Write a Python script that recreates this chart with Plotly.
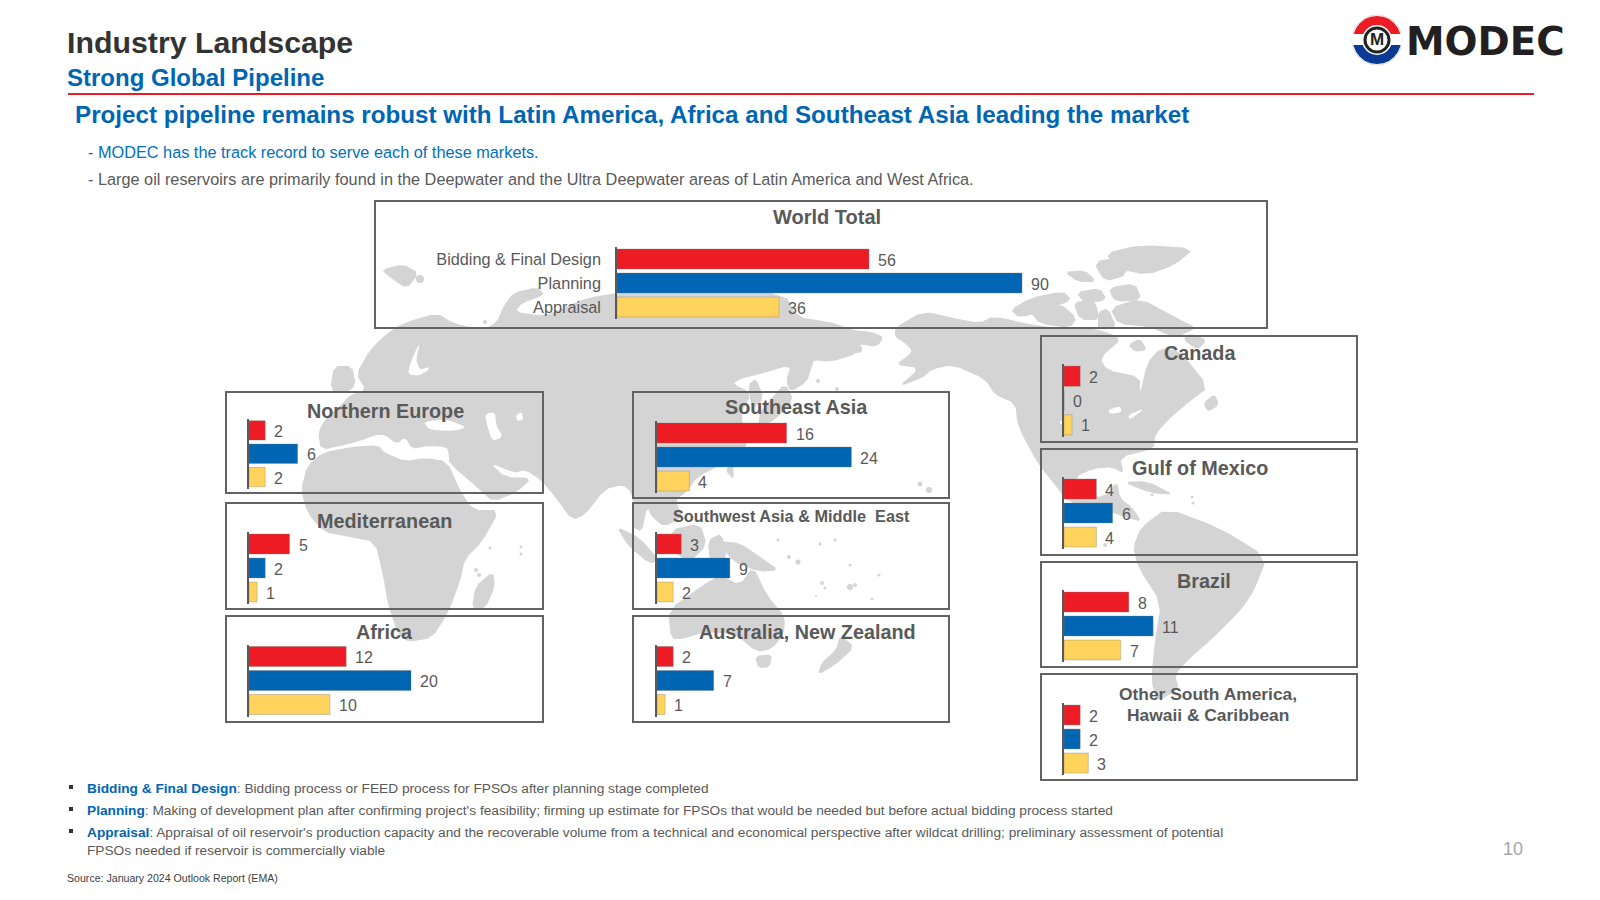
import plotly.graph_objects as go

# ---------- data ----------
CATEGORIES = ["Bidding & Final Design", "Planning", "Appraisal"]
BAR_COLORS = ["#ED1C24", "#0066B3", "#FFD35C"]

WORLD_TOTAL = [56, 90, 36]
NORTHERN_EUROPE = [2, 6, 2]
MEDITERRANEAN = [5, 2, 1]
AFRICA = [12, 20, 10]
SOUTHEAST_ASIA = [16, 24, 4]
SOUTHWEST_ASIA = [3, 9, 2]
AUSTRALIA_NZ = [2, 7, 1]
CANADA = [2, 0, 1]
GULF_OF_MEXICO = [4, 6, 4]
BRAZIL = [8, 11, 7]
OTHER_SOUTH_AMERICA = [2, 2, 3]

GREY = "#595959"
BLUE = "#0066B3"
FONT = "Liberation Sans"
W, H = 1600, 900

# panel: title lines, values, box(x0,y0,x1,y1), plot(x0,y0,y1), px/unit, title(x,y,size)
PANELS = [
    (["World Total"], WORLD_TOTAL, (375, 201, 1267, 328), (617, 247, 319), 4.50, (827, 217, 20)),
    (["Northern Europe"], NORTHERN_EUROPE, (226, 392, 543, 493), (249, 418.7, 488.7), 8.1, (385, 411, 19.8)),
    (["Mediterranean"], MEDITERRANEAN, (226, 503, 543, 609), (249, 532, 604), 8.1, (384, 521, 19.8)),
    (["Africa"], AFRICA, (226, 616, 543, 722), (249, 644.5, 716.5), 8.1, (384.5, 632, 19.8)),
    (["Southeast Asia"], SOUTHEAST_ASIA, (633, 392, 949, 498), (657, 421, 493), 8.1, (796, 407, 19.8)),
    (["Southwest Asia &amp; Middle  East"], SOUTHWEST_ASIA, (633, 503, 949, 609), (657, 532, 604), 8.1, (791, 516, 16.3)),
    (["Australia, New Zealand"], AUSTRALIA_NZ, (633, 616, 949, 722), (657, 644.5, 716.5), 8.1, (807, 632, 19.8)),
    (["Canada"], CANADA, (1041, 336, 1357, 442), (1064, 364, 437), 8.1, (1200, 353, 19.8)),
    (["Gulf of Mexico"], GULF_OF_MEXICO, (1041, 449, 1357, 555), (1064, 477, 549), 8.1, (1200, 468, 19.8)),
    (["Brazil"], BRAZIL, (1041, 562, 1357, 667), (1064, 590, 662), 8.1, (1204, 581, 19.8)),
    (["Other South America,", "Hawaii &amp; Caribbean"], OTHER_SOUTH_AMERICA, (1041, 674, 1357, 780), (1064, 703, 775), 8.1, (1208, 704.5, 17.4)),
]

# decorative background world map outline (page pixels)
MAP_LAND = [
    [(318, 432), (326, 418), (342, 404), (350, 395), (366, 390), (356, 374), (370, 350), (385, 335), (403, 323),
     (437, 313), (453, 323), (483, 330), (497, 322), (503, 307), (513, 293), (537, 287), (545, 295), (522, 303),
     (515, 312), (545, 316), (570, 305), (587, 298), (616, 293), (660, 290), (720, 290), (785, 294), (797, 317),
     (830, 322), (853, 330), (872, 332), (884, 337), (877, 347), (858, 344), (857, 354), (830, 362), (814, 360),
     (812, 366), (807, 382), (790, 392), (786, 380), (791, 365), (760, 374), (740, 379), (733, 384), (752, 393),
     (740, 415), (750, 443), (727, 462), (697, 477), (687, 492), (675, 500), (683, 517), (664, 527), (652, 517),
     (647, 507), (642, 532), (632, 527), (634, 507), (631, 492), (623, 485), (605, 489), (585, 515), (572, 520),
     (555, 497), (541, 480), (525, 470), (515, 473), (490, 463), (505, 477), (532, 478), (517, 492), (493, 502),
     (480, 490), (449, 463), (449, 456), (447, 447), (428, 446), (412, 449), (405, 437), (397, 444), (385, 435),
     (375, 435), (360, 441), (345, 445), (321, 450)],
    [(322, 453), (350, 447), (378, 445), (385, 453), (405, 461), (425, 458), (447, 461), (460, 490), (473, 510),
     (500, 510), (482, 542), (465, 559), (460, 582), (447, 615), (432, 638), (408, 642), (398, 634), (388, 605),
     (383, 575), (375, 542), (350, 537), (323, 532), (307, 512), (301, 490), (307, 466)],
    [(472, 609), (475, 587), (493, 571), (495, 587), (485, 609)],
    [(330, 390), (334, 366), (352, 366), (356, 385), (345, 394)],
    [(616, 526), (640, 538), (659, 560), (650, 564), (628, 546)],
    [(658, 565), (690, 568), (702, 575), (680, 577)],
    [(670, 530), (700, 523), (707, 545), (690, 562), (673, 552)],
    [(708, 540), (722, 533), (727, 560), (710, 564)],
    [(718, 541), (740, 543), (762, 558), (779, 570), (760, 572), (733, 562)],
    [(668, 610), (703, 585), (720, 575), (740, 585), (753, 566), (767, 595), (785, 617), (784, 634), (772, 649),
     (757, 652), (735, 634), (705, 632), (683, 639), (671, 639)],
    [(755, 656), (772, 654), (770, 667), (758, 668)],
    [(840, 635), (855, 647), (835, 665), (818, 675), (821, 663), (836, 650)],
    [(895, 328), (923, 311), (953, 318), (980, 323), (993, 316), (1033, 325), (1060, 328), (1093, 328), (1123, 338),
     (1100, 358), (1107, 370), (1140, 377), (1140, 395), (1147, 363), (1160, 348), (1180, 351), (1209, 387),
     (1189, 402), (1169, 419), (1155, 435), (1154, 449), (1120, 457), (1124, 474), (1112, 467), (1093, 469),
     (1075, 477), (1080, 495), (1105, 497), (1117, 481), (1120, 498), (1132, 507), (1142, 522), (1125, 517),
     (1095, 507), (1068, 502), (1055, 485), (1038, 464), (1018, 427), (1015, 403), (995, 395), (985, 379), (953, 365),
     (933, 369), (922, 378), (898, 387), (920, 368), (895, 365), (913, 352), (905, 343), (895, 337)],
    [(1141, 527), (1167, 508), (1220, 528), (1267, 557), (1255, 589), (1242, 609), (1212, 639), (1189, 659),
     (1175, 675), (1179, 689), (1157, 702), (1151, 680), (1155, 640), (1161, 603), (1138, 567), (1133, 547)],
    [(1123, 482), (1147, 481), (1175, 495), (1150, 493)],
    [(1105, 253), (1140, 245), (1195, 248), (1175, 265), (1147, 275), (1118, 269)],
    [(1064, 272), (1085, 270), (1097, 282), (1078, 282)],
    [(1093, 262), (1125, 256), (1127, 275), (1105, 282)],
    [(1010, 310), (1030, 298), (1063, 291), (1072, 300), (1050, 309), (1020, 318)],
    [(1030, 312), (1060, 303), (1077, 318), (1070, 328), (1040, 324)],
    [(1076, 292), (1100, 288), (1107, 300), (1085, 304)],
    [(1108, 288), (1135, 283), (1142, 300), (1115, 302)],
    [(1073, 302), (1095, 300), (1100, 320), (1080, 320)],
    [(1110, 308), (1140, 298), (1177, 318), (1197, 328), (1175, 338), (1150, 327), (1118, 324)],
    [(1098, 312), (1108, 308), (1117, 328), (1098, 330)],
    [(1183, 340), (1190, 333), (1207, 340), (1198, 350)],
    [(1128, 345), (1140, 338), (1147, 350), (1135, 352)],
    [(1203, 403), (1215, 394), (1219, 405), (1208, 412)],
    [(381, 270), (403, 264), (419, 273), (407, 289), (391, 278)],
    [(748, 385), (756, 378), (764, 398), (752, 410)],
    [(770, 400), (785, 383), (794, 400), (775, 420), (758, 427), (760, 412)],
    [(725, 470), (733, 463), (734, 480)],
]
MAP_WATER = [
    [(410, 364), (416, 350), (420, 343), (416, 360), (420, 370), (428, 367), (429, 370), (418, 376), (408, 374)],
    [(423, 422), (445, 419), (467, 427), (455, 431), (430, 430)],
    [(485, 414), (495, 412), (496, 425), (503, 437), (492, 441), (487, 425)],
    [(516, 415), (522, 412), (523, 420), (517, 421)],
    [(1108, 410), (1120, 406), (1122, 412), (1110, 414)],
    [(1128, 415), (1145, 408), (1130, 420)],
    [(1060, 420), (1070, 422), (1060, 425)],
]
MAP_DOTS = [
    (920, 484, 2.5), (929, 490, 3), (420, 279, 4), (485, 322, 2), (858, 349, 4), (818, 381, 2),
    (837, 389, 2), (490, 548, 1.5), (521, 547, 1.5), (521, 554, 1.5), (476, 570, 2), (479, 575, 2),
    (820, 544, 1.5), (835, 540, 1.5), (850, 565, 1.5), (879, 575, 1.5), (822, 583, 2), (825, 588, 1.5),
    (850, 587, 3), (855, 585, 2), (872, 599, 1.5), (789, 557, 2), (798, 562, 2.5), (816, 596, 1), (778, 540, 1.5),
    (1152, 495, 1.5), (1192, 497, 1.5), (1193, 503, 1.5), (1105, 545, 2),
]
LOGO_CENTER = (1377, 40)

TEXTS = [
    (65, 42.5, "<b>Industry Landscape</b>", 30.3, "#333333", "left"),
    (65, 77, "<b>Strong Global Pipeline</b>", 24, BLUE, "left"),
    (72.5, 115, "<b>Project pipeline remains robust with Latin America, Africa and Southeast Asia leading the market</b>", 24.2, BLUE, "left"),
    (86, 152, '<span style="color:#595959">- </span>MODEC has the track record to serve each of these markets.', 16.3, "#0070C0", "left"),
    (86, 179, "- Large oil reservoirs are primarily found in the Deepwater and the Ultra Deepwater areas of Latin America and West Africa.", 16.3, GREY, "left"),
    (85, 788, f'<b style="color:{BLUE}">Bidding &amp; Final Design</b>: Bidding process or FEED process for FPSOs after planning stage completed', 13.7, GREY, "left"),
    (85, 810, f"<b style=\"color:{BLUE}\">Planning</b>: Making of development plan after confirming project's feasibility; firming up estimate for FPSOs that would be needed but before actual bidding process started", 13.7, GREY, "left"),
    (85, 832, f"<b style=\"color:{BLUE}\">Appraisal</b>: Appraisal of oil reservoir's production capacity and the recoverable volume from a technical and economical perspective after wildcat drilling; preliminary assessment of potential", 13.7, GREY, "left"),
    (85, 850, "FPSOs needed if reservoir is commercially viable", 13.7, GREY, "left"),
    (65, 878, "Source: January 2024 Outlook Report (EMA)", 10.6, "#404040", "left"),
    (1513, 849, "10", 18, "#A6A6A6", "center"),
]
BULLET_ROWS = [788, 810, 832]


def px(x):
    return x / W


def py(y):
    return 1 - y / H


def smooth(pts, n=1):
    for _ in range(n):
        out = []
        for i, a in enumerate(pts):
            b = pts[(i + 1) % len(pts)]
            out.append((0.8 * a[0] + 0.2 * b[0], 0.8 * a[1] + 0.2 * b[1]))
            out.append((0.2 * a[0] + 0.8 * b[0], 0.2 * a[1] + 0.8 * b[1]))
        pts = out
    return pts


def path_of(pts):
    s = [f"{px(x):.5f},{py(y):.5f}" for x, y in pts]
    return "M" + " L".join(s) + " Z"


shapes, annotations = [], []
fig = go.Figure()
layout_axes = {}


def add_poly(pts, color, smoothing=1):
    shapes.append(dict(type="path", xref="paper", yref="paper", layer="below",
                       path=path_of(smooth(pts, smoothing)), fillcolor=color, line=dict(width=0)))


def add_circle(cx, cy, r, color):
    shapes.append(dict(type="circle", xref="paper", yref="paper", layer="below",
                       x0=px(cx - r), x1=px(cx + r), y0=py(cy + r), y1=py(cy - r),
                       fillcolor=color, line=dict(width=0)))


for poly in MAP_LAND:
    add_poly(poly, "#D4D4D4")
for poly in MAP_WATER:
    add_poly(poly, "#FFFFFF")
for cx, cy, r in MAP_DOTS:
    add_circle(cx, cy, r, "#D4D4D4")

# page rule
shapes.append(dict(type="line", xref="paper", yref="paper", x0=px(68), x1=px(1534), y0=py(94), y1=py(94),
                   line=dict(color="#ED1C24", width=2)))

for i, (title, values, box, plot, scale, ttl) in enumerate(PANELS):
    sfx = "" if i == 0 else str(i + 1)
    x0, y0, x1, y1 = box
    ax, top, bottom = plot
    shapes.append(dict(type="rect", xref="paper", yref="paper", layer="below",
                       x0=px(x0), x1=px(x1), y0=py(y1), y1=py(y0),
                       line=dict(color="#636363", width=2), fillcolor="rgba(0,0,0,0)"))
    width = 450 if i == 0 else 250
    fig.add_trace(go.Bar(
        x=values, y=CATEGORIES, orientation="h", xaxis="x" + sfx, yaxis="y" + sfx,
        marker=dict(color=BAR_COLORS, line=dict(color="rgba(120,120,120,0.35)", width=1)),
        showlegend=False, hoverinfo="x+y",
    ))
    layout_axes["xaxis" + sfx] = dict(domain=[px(ax), px(ax + width)], range=[0, width / scale], visible=False,
                                      anchor="y" + sfx, fixedrange=True)
    layout_axes["yaxis" + sfx] = dict(domain=[py(bottom), py(top)], autorange="reversed", anchor="x" + sfx,
                                      showline=True, linecolor=GREY, linewidth=1.5, ticks="",
                                      showgrid=False, zeroline=False, fixedrange=True,
                                      showticklabels=(i == 0), ticklabelstandoff=11,
                                      tickfont=dict(family=FONT, size=16.3, color=GREY))
    for cat, v in zip(CATEGORIES, values):
        annotations.append(dict(xref="x" + sfx, yref="y" + sfx, x=v, y=cat, text=str(v), showarrow=False,
                                xanchor="left", yanchor="middle", xshift=7, yshift=-1,
                                font=dict(family=FONT, size=16, color=GREY)))
    n = len(title)
    for k, line in enumerate(title):
        annotations.append(dict(xref="paper", yref="paper", x=px(ttl[0]), y=py(ttl[1] + (k - (n - 1) / 2) * 20.5),
                                text=f"<b>{line}</b>", showarrow=False, xanchor="center", yanchor="middle",
                                align="center", font=dict(family=FONT, size=ttl[2], color=GREY)))

for x, y, text, size, color, anchor in TEXTS:
    annotations.append(dict(xref="paper", yref="paper", x=px(x), y=py(y), text=text, showarrow=False,
                            xanchor=anchor, yanchor="middle", align=anchor,
                            font=dict(family=FONT, size=size, color=color)))

for y in BULLET_ROWS:
    shapes.append(dict(type="rect", xref="paper", yref="paper", x0=px(69), x1=px(73), y0=py(y + 1), y1=py(y - 3),
                       fillcolor="#333333", line=dict(width=0)))

# logo
lx, ly = LOGO_CENTER
shapes.append(dict(type="circle", xref="paper", yref="paper", x0=px(lx - 25), x1=px(lx + 25), y0=py(ly + 25), y1=py(ly - 25),
                   fillcolor="#FFFFFF", line=dict(color="#DDDDDD", width=1)))


def half(sign, color):
    pts = [(lx + 24 * c, ly + sign * 24 * s) for c, s in
           [(1, 0), (0.97, 0.26), (0.87, 0.5), (0.71, 0.71), (0.5, 0.87), (0.26, 0.97), (0, 1),
            (-0.26, 0.97), (-0.5, 0.87), (-0.71, 0.71), (-0.87, 0.5), (-0.97, 0.26), (-1, 0)]]
    shapes.append(dict(type="path", xref="paper", yref="paper", path=path_of(pts), fillcolor=color, line=dict(width=0)))


half(-1, "#ED1C24")
half(1, "#0B3A94")
shapes.append(dict(type="rect", xref="paper", yref="paper", x0=px(lx - 25), x1=px(lx + 25), y0=py(ly + 5), y1=py(ly - 6),
                   fillcolor="#FFFFFF", line=dict(width=0)))
shapes.append(dict(type="circle", xref="paper", yref="paper", x0=px(lx - 15), x1=px(lx + 15), y0=py(ly + 15), y1=py(ly - 15),
                   fillcolor="#FFFFFF", line=dict(width=0)))
shapes.append(dict(type="circle", xref="paper", yref="paper", x0=px(lx - 12), x1=px(lx + 12), y0=py(ly + 12), y1=py(ly - 12),
                   fillcolor="#FFFFFF", line=dict(color="#222222", width=3)))
annotations.append(dict(xref="paper", yref="paper", x=px(lx), y=py(ly), text="<b>M</b>", showarrow=False,
                        xanchor="center", yanchor="middle", font=dict(family=FONT, size=17, color="#222222")))
annotations.append(dict(xref="paper", yref="paper", x=px(1404), y=py(41), text="<b>MODEC</b>", showarrow=False,
                        xanchor="left", yanchor="middle", font=dict(family="DejaVu Sans", size=38.8, color="#231F20")))

fig.update_layout(
    width=W, height=H, margin=dict(l=0, r=0, t=0, b=0), paper_bgcolor="#FFFFFF", plot_bgcolor="rgba(0,0,0,0)",
    bargap=0.17, shapes=shapes, annotations=annotations, font=dict(family=FONT), **layout_axes,
)
fig.write_html("out.html", config={"displayModeBar": False}, post_script="document.body.style.margin='0';")
